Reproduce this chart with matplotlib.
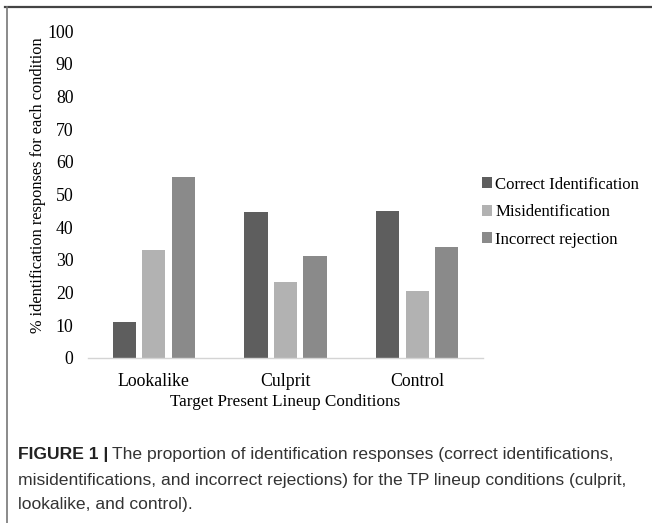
import matplotlib
matplotlib.use("Agg")
import matplotlib.pyplot as plt
from matplotlib.lines import Line2D
import numpy as np

categories = ["Lookalike", "Culprit", "Control"]
series_names = ["Correct Identification", "Misidentification", "Incorrect rejection"]
correct_id = [10.9, 44.8, 45.0]
misid = [33.0, 23.3, 20.6]
incorrect_rej = [55.3, 31.2, 33.8]
yticks = [0, 10, 20, 30, 40, 50, 60, 70, 80, 90, 100]
colors = ["#5e5e5e", "#b2b2b2", "#8a8a8a"]

serif = ["Liberation Serif", "DejaVu Serif"]

W, H = 652, 523
fig = plt.figure(figsize=(W / 100, H / 100), dpi=100)
ax = fig.add_axes([88 / W, 1 - 358 / H, (483 - 88) / W, (358 - 31) / H])

x = np.arange(len(categories))
width = 0.175
pitch = 0.224
for i, (vals, name, c) in enumerate(zip([correct_id, misid, incorrect_rej], series_names, colors)):
    ax.bar(x + (i - 1) * pitch, vals, width=width, color=c, label=name, zorder=2)

ax.set_xlim(-0.5, 2.5)
ax.set_ylim(0, 100)
ax.set_yticks(yticks)
ax.set_yticklabels([str(t) for t in yticks], fontfamily=serif, fontsize=12.8)
ax.set_xticks(x)
ax.set_xticklabels(categories, fontfamily=serif, fontsize=12.8)
ax.tick_params(axis="both", length=0)
ax.tick_params(axis="y", pad=10.5)
ax.tick_params(axis="x", pad=11)
for s in ["top", "right", "left"]:
    ax.spines[s].set_visible(False)
ax.spines["bottom"].set_color("#d4d4d4")
ax.spines["bottom"].set_linewidth(1.0)

ax.set_xlabel("Target Present Lineup Conditions", fontfamily=serif, fontsize=12.3, labelpad=3)
ax.set_ylabel("% identification responses for each condition", fontfamily=serif, fontsize=11.8)
ax.yaxis.set_label_coords(-0.106, 0.53)

leg = fig.legend(loc="upper left", bbox_to_anchor=(475 / W, 1 - 170 / H),
                 prop={"family": serif, "size": 12.1}, frameon=False,
                 handlelength=0.6, handleheight=0.6, handletextpad=0.2,
                 labelspacing=0.68, borderaxespad=0)

# frame lines
fig.add_artist(Line2D([5 / W, 1.0], [1 - 6.5 / H, 1 - 6.5 / H], color="#444444", lw=1.6))
fig.add_artist(Line2D([7 / W, 7 / W], [0, 1 - 6.5 / H], color="#777777", lw=1.2))

cap_family = ["Liberation Sans"]
cap_fs = 12.6
y1 = 1 - 455 / H
t1 = fig.text(18 / W, y1, "FIGURE 1 |", fontfamily=cap_family, fontweight="bold", fontsize=cap_fs,
              va="center", ha="left", color="#222222")
fig.canvas.draw()
bb = t1.get_window_extent(renderer=fig.canvas.get_renderer())
x_after = (bb.x1 + 4) / W
fig.text(x_after, y1, "The proportion of identification responses (correct identifications,",
         fontfamily=cap_family, fontsize=cap_fs, va="center", ha="left", color="#333333")
fig.text(18 / W, 1 - 480 / H,
         "misidentifications, and incorrect rejections) for the TP lineup conditions (culprit,",
         fontfamily=cap_family, fontsize=cap_fs, va="center", ha="left", color="#333333")
fig.text(18 / W, 1 - 504 / H, "lookalike, and control).",
         fontfamily=cap_family, fontsize=cap_fs, va="center", ha="left", color="#333333")

fig.savefig("out.png", dpi=100)
